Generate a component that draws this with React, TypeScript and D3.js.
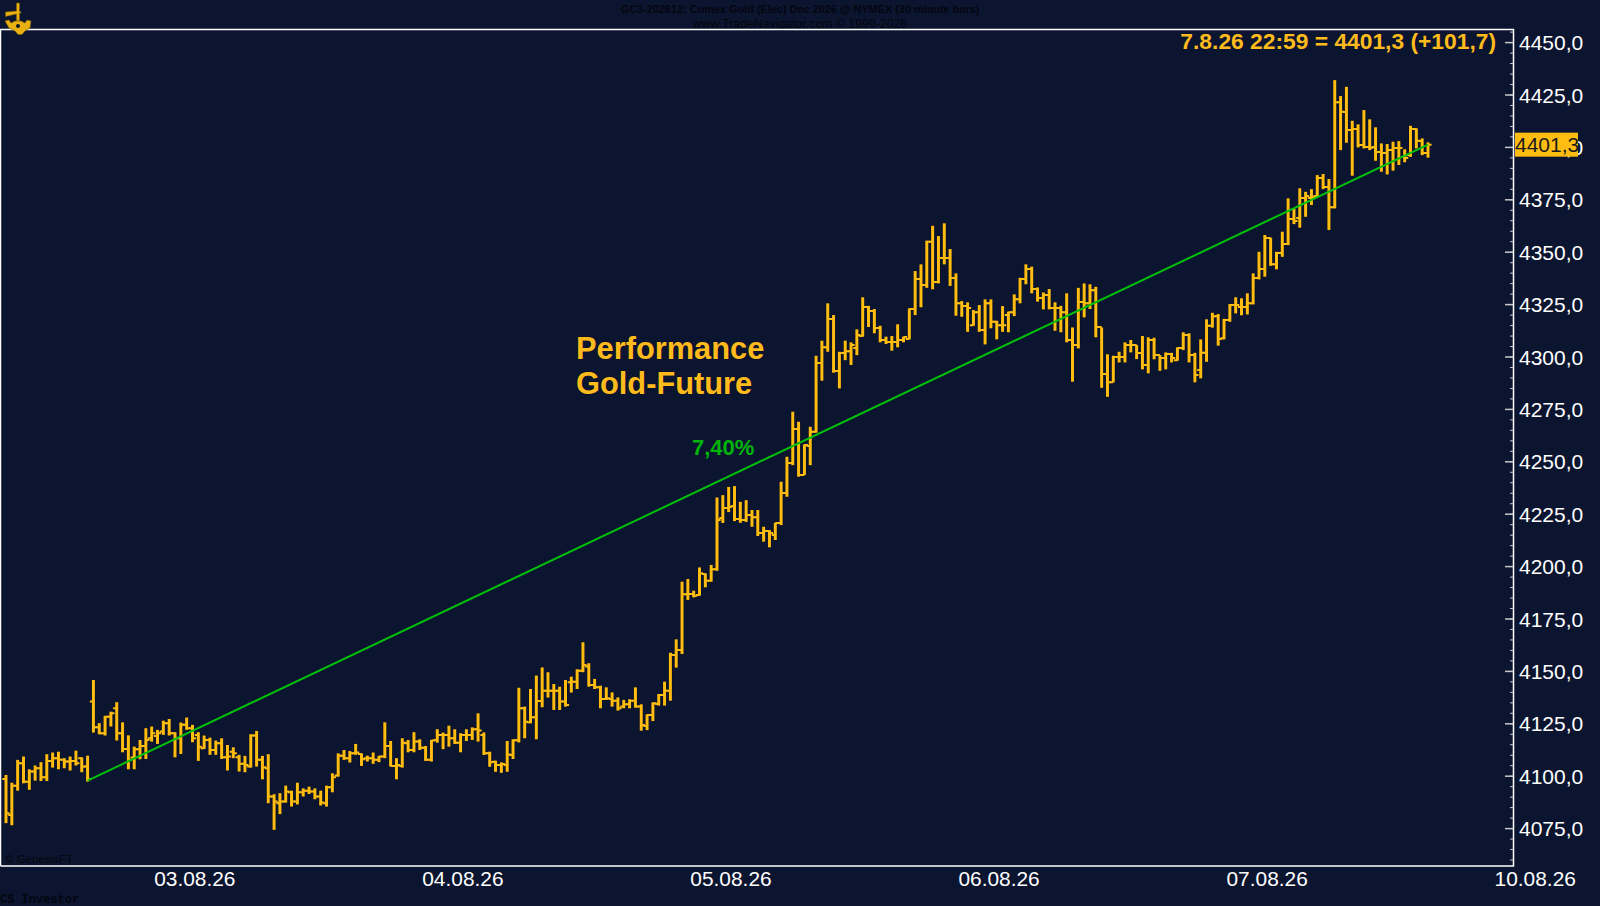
import React from 'react';
import * as d3 from 'd3';

// 30 minute OHLC bars
const barOpen = [
  4098.7, 4081.5, 4095.5, 4106.2, 4097.4, 4102.2, 4103.8, 4099.5, 4107.3, 4108.6, 4107.8, 4107, 4107.3, 4108.6, 4104.6,
  4135.6, 4123.3, 4120.5, 4128.4, 4132.4, 4120.5, 4113, 4108.9, 4112.9, 4114.4, 4118.1, 4119.2, 4121.3, 4125.3, 4120.5,
  4118.1, 4124.5, 4122.9, 4119.7, 4113.3, 4117.3, 4112.5, 4115.7, 4109, 4111.7, 4109, 4105.9, 4104.6, 4119.4, 4107.8,
  4103.8, 4090.3, 4087.1, 4087.9, 4092.3, 4087.9, 4092.3, 4093.1, 4092.7, 4090.3, 4087.1, 4094.7, 4100.3, 4109.7, 4108.6,
  4110.9, 4110.6, 4108.6, 4108.6, 4107.8, 4109.4, 4114.4, 4104.9, 4104.9, 4115.7, 4112.5, 4116.5, 4113.6, 4107.8, 4117.3,
  4119.7, 4119.7, 4118.1, 4116, 4119.7, 4119.7, 4122.4, 4119.6, 4111, 4106.9, 4105.3, 4105.3, 4110.1, 4117.2, 4132.4,
  4125.7, 4128.1, 4135.9, 4140.8, 4140.8, 4140.8, 4135.6, 4144.8, 4145.1, 4150.3, 4152.3, 4143.5, 4142.4, 4136.8, 4136.8,
  4136, 4133.2, 4134.3, 4136, 4133.2, 4123.9, 4129.2, 4134.4, 4138.7, 4140.8, 4157.8, 4160.2, 4186.8, 4186.9, 4186.4,
  4196.5, 4193.3, 4198.7, 4223.2, 4227.9, 4228.9, 4222.7, 4222.2, 4224.6, 4223.6, 4216, 4217, 4215.1, 4220.8, 4235.1,
  4249.4, 4265.6, 4243.7, 4257.5, 4264.3, 4297.1, 4304.7, 4318.1, 4293.3, 4301.9, 4302.8, 4304.3, 4310, 4323.8, 4321.9,
  4313.8, 4308.1, 4307.1, 4307.1, 4308.1, 4308.6, 4322.9, 4337.2, 4334.3, 4355, 4335.8, 4347.2, 4347.2, 4337.7, 4325.7,
  4324.3, 4315.2, 4321.4, 4312.9, 4325.7, 4316.8, 4315.2, 4320, 4321.4, 4327.6, 4337.2, 4342, 4332.4, 4328.1, 4329.6,
  4323.4, 4323.4, 4321.4, 4308.1, 4305.7, 4326.2, 4325.7, 4331.9, 4314.3, 4291.9, 4288, 4300, 4300, 4305.7, 4305.7,
  4301.9, 4296.2, 4308.1, 4300.9, 4299.5, 4301.4, 4298.5, 4304.3, 4310.5, 4300.9, 4293.8, 4302, 4314.9, 4319.5, 4309,
  4317.6, 4324.8, 4323.8, 4323.8, 4325.7, 4337.7, 4342, 4356.8, 4344.3, 4349.6, 4353.9, 4365.8, 4366.3, 4375.8, 4375.8,
  4376.8, 4385.4, 4381.1, 4371.5, 4421.6, 4416.9, 4408.3, 4408.8, 4401.1, 4400.2, 4400.2, 4397.8, 4397.3, 4398.7, 4399.7,
  4395.4, 4396.3, 4408.8, 4403, 4397.3,
];
const barHigh = [
  4100.6, 4096.9, 4107.8, 4109.4, 4103.3, 4105.1, 4106.7, 4110.5, 4111.3, 4111.7, 4108.6, 4109.4, 4112.2, 4109, 4109.8,
  4145.9, 4125.3, 4128.8, 4130.8, 4135.3, 4125.7, 4119.5, 4114.1, 4117.3, 4122.9, 4123.7, 4122.1, 4126.5, 4127.3, 4121,
  4125.6, 4128, 4124.5, 4121, 4119.4, 4118.4, 4117, 4118.1, 4114.9, 4113.8, 4110.2, 4109.7, 4120, 4121.6, 4109.7,
  4110.5, 4091.4, 4091.9, 4095.5, 4093.1, 4096.9, 4094.2, 4095, 4094.2, 4093.1, 4095.5, 4101.4, 4110.9, 4112.5, 4112,
  4115.4, 4110.9, 4109.8, 4111.3, 4109.7, 4125.7, 4116.8, 4108.6, 4118.1, 4117.3, 4121, 4117.6, 4114.4, 4117.3, 4122.4,
  4120.8, 4124.1, 4122.4, 4120.5, 4122.4, 4123.3, 4130, 4120.9, 4111.7, 4107.4, 4106.6, 4116.8, 4117.6, 4142.2, 4133.2,
  4141.6, 4148, 4151.9, 4149.6, 4144, 4142.7, 4145.9, 4147.5, 4151, 4163.9, 4153.9, 4146.4, 4143.2, 4142.4, 4140,
  4137.6, 4136.4, 4136.7, 4142.4, 4134.3, 4129.5, 4135.2, 4139.2, 4145.1, 4158.9, 4165.3, 4192.8, 4194.1, 4188.5, 4199.6,
  4196.8, 4200.8, 4233, 4234.1, 4238, 4238.4, 4230.9, 4231.7, 4227, 4227, 4219, 4217.4, 4220.9, 4240.5, 4252.4,
  4273.9, 4269.1, 4258.3, 4266.7, 4300.6, 4307.8, 4325.6, 4320, 4302.5, 4307.8, 4307, 4313.2, 4328.5, 4324.4, 4322.9,
  4314.9, 4309.7, 4310, 4315.6, 4309.7, 4323.2, 4341, 4344.2, 4355.5, 4362.6, 4357.7, 4363.8, 4351.5, 4339.9, 4326.7,
  4326.1, 4322.4, 4324.8, 4327.5, 4327.5, 4317.3, 4324.3, 4321.6, 4329.9, 4337.8, 4344.2, 4343.1, 4333.2, 4330.8, 4332.4,
  4326.1, 4324.4, 4330.4, 4314.1, 4333, 4335.1, 4334.7, 4333.5, 4314.1, 4301.3, 4300.6, 4302.5, 4307, 4308.1, 4305.7,
  4310, 4309.4, 4309.2, 4300.9, 4302.2, 4302, 4304.6, 4311.8, 4311.3, 4302, 4308.4, 4318, 4321.1, 4320.5, 4318.2,
  4325.3, 4328.5, 4328, 4330.4, 4339.9, 4350.2, 4358.2, 4356.9, 4350.2, 4359.8, 4375.7, 4370.9, 4380.5, 4378.8, 4380.1,
  4386.8, 4387.3, 4384.9, 4432.1, 4424.5, 4428.9, 4412.7, 4411, 4417.8, 4413.4, 4409.6, 4401.9, 4401.6, 4402.7, 4403,
  4399.1, 4410.3, 4409.1, 4404.3, 4402.4,
];
const barLow = [
  4077.6, 4076.6, 4093.1, 4096.6, 4093.5, 4097.9, 4097.7, 4097.7, 4104.1, 4103.3, 4103.8, 4102.7, 4105.1, 4101.9, 4097.4,
  4120.8, 4120, 4119.4, 4123.7, 4117, 4111.4, 4103.3, 4103.3, 4108.1, 4108.2, 4116.5, 4115.4, 4119.7, 4119.4, 4109,
  4110.6, 4122.1, 4116.2, 4107.3, 4113, 4110.2, 4110.2, 4108.2, 4102.7, 4108.6, 4102.2, 4101.9, 4104.1, 4104.6, 4098.5,
  4087.1, 4074.4, 4081.9, 4087.4, 4085.5, 4086.5, 4090.3, 4091.5, 4089, 4086, 4085.5, 4092.3, 4099.8, 4107.8, 4106.5,
  4110.2, 4104.9, 4107, 4105.9, 4106.7, 4108.6, 4104.6, 4098.5, 4104.1, 4111.4, 4111.4, 4112.5, 4107.3, 4107, 4116,
  4112.9, 4114.1, 4115.4, 4111.4, 4116.8, 4117.3, 4116.5, 4110.1, 4104.5, 4102.1, 4101.6, 4102.1, 4108.2, 4116.1, 4118.1,
  4125.2, 4117.6, 4132.9, 4137.5, 4131.6, 4131.6, 4133.2, 4139.9, 4141.6, 4149.6, 4142.7, 4141.6, 4132.4, 4136.4, 4133.2,
  4131.3, 4132.4, 4132.4, 4132.7, 4121.7, 4122, 4126.3, 4133.7, 4133.7, 4136, 4151.8, 4158.3, 4184.1, 4185.3, 4186.1,
  4190.1, 4192.8, 4198, 4220.8, 4226, 4221.7, 4220.9, 4221.3, 4219, 4214.6, 4211.9, 4209.2, 4212.7, 4219.8, 4233.3,
  4248.4, 4242.9, 4243.7, 4248.4, 4263.9, 4288.7, 4302.5, 4292.5, 4285, 4298.5, 4296.2, 4300.9, 4309.7, 4314.3, 4311.3,
  4307, 4306.2, 4303, 4304.6, 4307, 4308.4, 4320, 4323.7, 4333, 4332.3, 4335.1, 4344.2, 4333.9, 4319.7, 4319.2,
  4312, 4314.9, 4312, 4306, 4313.7, 4308.4, 4312, 4311.8, 4319.5, 4325.6, 4334.7, 4330.4, 4326.4, 4322.7, 4322.7,
  4312.5, 4311.8, 4307, 4288.2, 4304.1, 4318.9, 4322.9, 4309.4, 4285.3, 4281, 4287.9, 4297.4, 4297.4, 4302.2, 4299,
  4294.1, 4292.2, 4298.9, 4293.4, 4294.1, 4297.4, 4298.2, 4303.3, 4297.4, 4287.9, 4289.8, 4297.7, 4314, 4305.4, 4308.4,
  4316.8, 4320.8, 4319.9, 4320.3, 4325.1, 4337, 4338.3, 4343.5, 4341.8, 4347.8, 4353.4, 4363.4, 4361.7, 4366.9, 4372.5,
  4376.5, 4380.1, 4360.6, 4370.9, 4398.7, 4402.2, 4386.5, 4400, 4399.5, 4398.7, 4393.6, 4388.4, 4387.1, 4388.9, 4391.6,
  4392.9, 4395.5, 4399.5, 4396.3, 4395.1,
];
const barClose = [
  4082.3, 4095.5, 4106.2, 4097.4, 4102.2, 4103.8, 4099.5, 4107.3, 4108.6, 4107.8, 4107, 4107.3, 4106.2, 4104.6, 4098.5,
  4123.3, 4120.5, 4128.4, 4130, 4120.5, 4113, 4107.8, 4112.9, 4114.4, 4117.3, 4120.5, 4120.5, 4125.3, 4120.5, 4118.1,
  4124.5, 4122.9, 4118.1, 4114.1, 4117.3, 4112.5, 4115.7, 4109, 4109.4, 4110.9, 4105.9, 4105.4, 4119.4, 4107.8, 4104.3,
  4090.3, 4087.9, 4087.9, 4092.7, 4087.9, 4092.3, 4093.1, 4092.7, 4090.3, 4087.4, 4094.7, 4099.5, 4109.7, 4108.6, 4110.9,
  4111.3, 4108.1, 4108.6, 4107.8, 4109.4, 4114.4, 4104.9, 4105.4, 4116, 4112.5, 4116.5, 4113.6, 4107.8, 4117, 4119.7,
  4119.7, 4118.1, 4116, 4119.7, 4119.7, 4122.4, 4121.8, 4111, 4106.6, 4105.3, 4105.8, 4110.4, 4117.2, 4132.4, 4126,
  4128.1, 4135.9, 4140.8, 4140.8, 4140.8, 4135.6, 4134, 4145.1, 4150.3, 4153.1, 4143.5, 4142.4, 4136.8, 4137.2, 4136,
  4132.4, 4134.3, 4136, 4133.2, 4124.4, 4129.2, 4134.8, 4138.7, 4140.8, 4157.8, 4160.2, 4186.8, 4186.9, 4186.1, 4196.8,
  4193.3, 4198.7, 4222.2, 4227.9, 4228.4, 4222.7, 4222.2, 4224.6, 4223.6, 4216, 4217, 4216, 4220.8, 4235.1, 4249.4,
  4265.6, 4243.7, 4258, 4264.3, 4297.1, 4304.7, 4318.1, 4293.3, 4301.9, 4302.8, 4305.7, 4310.5, 4323.8, 4321.9, 4313.8,
  4308.1, 4307.1, 4307.1, 4308.1, 4309.5, 4322.9, 4337.2, 4334.3, 4355, 4335.8, 4347.2, 4347.2, 4337.7, 4325.7, 4324.3,
  4323.4, 4321.4, 4312.9, 4325.7, 4316.8, 4315.2, 4315.2, 4321.4, 4327.6, 4337.2, 4342, 4332.4, 4328.1, 4329.6, 4323.4,
  4323.4, 4321.4, 4308.1, 4305.7, 4326.2, 4325.7, 4331.9, 4314.3, 4291.9, 4288, 4300, 4300, 4305.7, 4305.7, 4301.9,
  4296.2, 4308.1, 4300.9, 4299.5, 4301.4, 4299.5, 4304.3, 4310.5, 4300.9, 4291.4, 4302, 4314.9, 4319.5, 4308.6, 4317.6,
  4324.8, 4324.8, 4323.8, 4325.7, 4337.7, 4342, 4356.8, 4344.3, 4349.6, 4353.9, 4365.8, 4364.9, 4375.8, 4376.8, 4376.3,
  4385.4, 4381.1, 4371.5, 4421.6, 4417, 4408.3, 4408.8, 4401.1, 4400.2, 4399.8, 4397.8, 4397.3, 4398.7, 4399.7, 4399.7,
  4394.9, 4408.8, 4403.2, 4397.3, 4401.3,
];

const priceLabels = d3.range(4075, 4451, 25);
const minorPrices = d3.range(4060, 4456, 5);
const dateLabels = ['03.08.26', '04.08.26', '05.08.26', '06.08.26', '07.08.26', '10.08.26'];
const dateBars = [32.4, 78.4, 124.4, 170.4, 216.4, 262.4];

const trendBars = [14, 244];
const trendPrices = [4097.9, 4401.3];

const W = 1600;
const H = 906;
const bg = '#0c1530';
const gold = '#ffbd12';
const sans = '"Liberation Sans", Arial, sans-serif';

const x = d3.scaleLinear().domain([0, 244]).range([6, 1428]);
const y = d3.scaleLinear().domain([4075, 4425]).range([828.6, 95]);

const fmt = (v: number) => v.toFixed(1).replace('.', ',');

const trendLine = d3.line<number>()
  .x((d) => x(d))
  .y((_, i) => y(trendPrices[i]));

const stemPath = (i: number) => `M${x(i)},${y(barHigh[i])}V${y(barLow[i])}`;
const tickPath = (i: number) =>
  `M${x(i) - 3.6},${y(barOpen[i])}H${x(i)}M${x(i)},${y(barClose[i])}H${x(i) + 3.6}`;

const App: React.FC = () => {
  const last = barClose[barClose.length - 1];
  return (
    <svg
      width={W}
      height={H}
      viewBox={`0 0 ${W} ${H}`}
      style={{ position: 'absolute', left: 0, top: 0, display: 'block', background: bg }}
      fontFamily={sans}
    >
      <rect x={0} y={0} width={W} height={H} fill={bg} />

      {/* header, almost invisible on the navy */}
      <text x={800} y={13} textAnchor="middle" fontSize={10.9} fontWeight="bold" fill="#03060f">
        GC3-202612:  Comex Gold (Elec) Dec 2026 @ NYMEX  (30 minute bars)
      </text>
      <text x={800} y={28} textAnchor="middle" fontSize={12.3} fill="#03060f">
        www.TradeNavigator.com © 1999-2026
      </text>

      {/* frame */}
      <path d="M0.5,866V29.5H1513.5V866H0.5" fill="none" stroke="#ffffff" strokeWidth={1.5} />

      {/* logo */}
      <g fill="#e8b010" stroke="#7a5a08" strokeWidth={0.6}>
        <path d="M16.5,3h3v8l2,2h-2v8h-3v-7l-11,2.5v-4.5l11,-1z" />
        <path d="M5,21l4,-1l2,3l4,-2h6l4,2l2,-3l4,1l-1,7l-5,3l-3,3.5h-4l-3,-3.5l-6,-3z" />
        <circle cx={18} cy={26} r={2} fill="#0c1530" stroke="none" />
      </g>

      {/* price axis */}
      {minorPrices.map((p) => (
        <line key={p} x1={1510} x2={1513} y1={y(p)} y2={y(p)} stroke="#c8c8c8" strokeWidth={1} />
      ))}
      {priceLabels.map((p) => (
        <g key={p}>
          <line x1={1505} x2={1513} y1={y(p)} y2={y(p)} stroke="#c8c8c8" strokeWidth={1.5} />
          <text x={1519} y={y(p)} dy="0.36em" fontSize={21} fill="#ffffff">{fmt(p)}</text>
        </g>
      ))}

      {/* date axis */}
      {dateLabels.map((d, i) => (
        <text key={d} x={x(dateBars[i])} y={886} textAnchor="middle" fontSize={20.9} fill="#ffffff">{d}</text>
      ))}

      {/* bars */}
      <g fill="none">
        {barClose.map((_, i) => (
          <path key={'h' + i} d={stemPath(i)} stroke="#04060f" strokeWidth={4.2} opacity={0.5} />
        ))}
        {barClose.map((_, i) => (
          <g key={i}>
            <path d={stemPath(i)} stroke={gold} strokeWidth={3} />
            <path d={tickPath(i)} stroke={gold} strokeWidth={2} />
          </g>
        ))}
      </g>

      {/* performance line */}
      <path d={trendLine(trendBars) ?? ''} fill="none" stroke="#00c00a" strokeWidth={2} />

      {/* annotations */}
      <text x={692} y={455} fontSize={22} fontWeight="bold" fill="#00b40a">7,40%</text>
      <g fontSize={30.8} fontWeight="bold" fill="#ffbb1c" stroke="#04060f" strokeWidth={0.4} paintOrder="stroke">
        <text x={576} y={358.5}>Performance</text>
        <text x={576} y={394}>Gold-Future</text>
      </g>
      <text x={1496} y={49} textAnchor="end" fontSize={22.8} fontWeight="bold" fill="#ffbb1c">
        7.8.26 22:59 = {fmt(last)} (+101,7)
      </text>

      {/* last price tag */}
      <rect x={1515} y={y(last) - 12} width={63} height={24} fill={gold} />
      <text x={1515} y={y(last)} dy="0.36em" fontSize={21} fill="#1a1a1a">{fmt(last)}</text>

      {/* footers */}
      <text x={5} y={863} fontSize={11.5} fill="#03060f">© GenesisFT</text>
      <text x={0} y={903} fontSize={12} fontWeight="bold" fontFamily='"Liberation Mono", monospace' fill="#03060f">CS Investor</text>
    </svg>
  );
};

export default App;
